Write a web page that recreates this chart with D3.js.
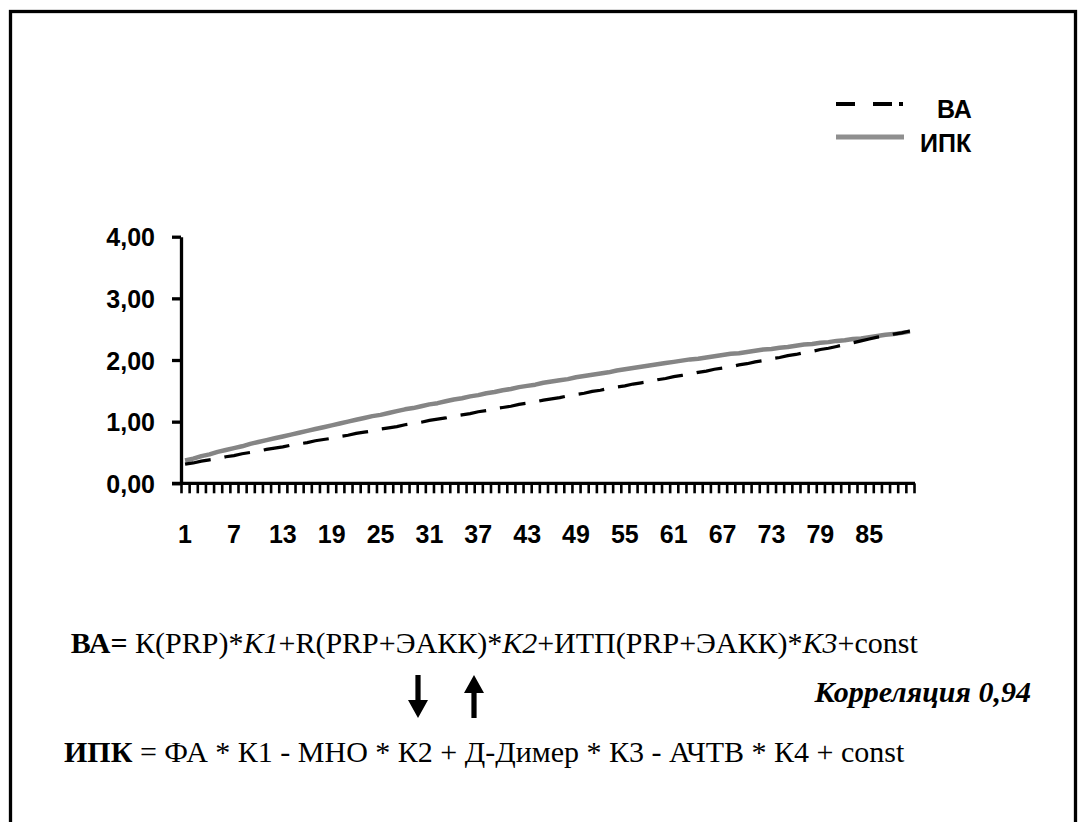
<!DOCTYPE html>
<html>
<head>
<meta charset="utf-8">
<script src="https://cdn.jsdelivr.net/npm/d3@7"></script>
<style>
  html, body { margin: 0; padding: 0; background: #fff; }
  svg { display: block; }
</style>
</head>
<body>
<svg id="chart" width="1086" height="822"></svg>
<script>
// ---------- DATA ----------
const categories = [1,2,3,4,5,6,7,8,9,10,11,12,13,14,15,16,17,18,19,20,21,22,23,24,25,26,27,28,29,30,
  31,32,33,34,35,36,37,38,39,40,41,42,43,44,45,46,47,48,49,50,51,52,53,54,55,56,57,58,59,60,
  61,62,63,64,65,66,67,68,69,70,71,72,73,74,75,76,77,78,79,80,81,82,83,84,85,86,87,88,89,90];

const seriesNames = ["ВА", "ИПК"];

const vaValues = [0.31,0.33,0.36,0.38,0.40,0.43,0.45,0.48,0.50,0.52,0.55,0.57,0.59,0.62,0.64,0.66,
  0.69,0.71,0.73,0.76,0.78,0.81,0.83,0.85,0.88,0.90,0.92,0.95,0.97,0.99,1.02,1.04,1.06,1.09,1.11,
  1.13,1.16,1.18,1.21,1.23,1.25,1.28,1.30,1.32,1.35,1.37,1.39,1.42,1.44,1.46,1.49,1.51,1.54,1.56,
  1.58,1.61,1.63,1.65,1.68,1.70,1.73,1.75,1.77,1.80,1.82,1.85,1.87,1.89,1.92,1.94,1.97,1.99,2.02,
  2.04,2.07,2.09,2.12,2.14,2.17,2.19,2.22,2.25,2.28,2.31,2.34,2.37,2.39,2.42,2.44,2.47];

const ipkValues = [0.37,0.40,0.44,0.47,0.51,0.54,0.57,0.60,0.64,0.67,0.70,0.73,0.76,0.79,0.82,0.85,
  0.88,0.91,0.94,0.97,1.00,1.03,1.06,1.09,1.11,1.14,1.17,1.20,1.22,1.25,1.28,1.30,1.33,1.36,1.38,
  1.41,1.43,1.46,1.48,1.51,1.53,1.56,1.58,1.60,1.63,1.65,1.67,1.69,1.72,1.74,1.76,1.78,1.80,1.83,
  1.85,1.87,1.89,1.91,1.93,1.95,1.97,1.99,2.01,2.02,2.04,2.06,2.08,2.10,2.11,2.13,2.15,2.17,2.18,
  2.20,2.21,2.23,2.25,2.26,2.28,2.29,2.31,2.32,2.34,2.35,2.37,2.39,2.41,2.42,2.44,2.46];

const xTickLabels = [1,7,13,19,25,31,37,43,49,55,61,67,73,79,85];
const yTickValues = [0,1,2,3,4];

// ---------- LAYOUT ----------
const svg = d3.select("#chart");
const sansFont = "'Liberation Sans', Arial, sans-serif";
const serifFont = "'Liberation Serif', 'Times New Roman', serif";

// outer frame
svg.append("rect")
  .attr("x", 10.5).attr("y", 11.5)
  .attr("width", 1065).attr("height", 900)
  .attr("fill", "none").attr("stroke", "#000").attr("stroke-width", 3.3);

const x0 = 181, x1 = 914, yTop = 236.7, yBottom = 483.3;

const x = d3.scaleBand().domain(categories).range([x0, x1]).padding(0);
const xEdge = d3.scaleLinear().domain([0, categories.length]).range([x0, x1]);
const y = d3.scaleLinear().domain([0, 4]).range([yBottom, yTop]);

const g = svg.append("g");

// x axis: tick marks between categories
const xAxisTicks = d3.axisBottom(xEdge)
  .tickValues(d3.range(0, categories.length + 1))
  .tickSize(10).tickSizeOuter(0).tickFormat("");
const gxt = g.append("g").attr("transform", `translate(0,${yBottom})`).call(xAxisTicks);
gxt.select(".domain").remove();
gxt.selectAll(".tick line").attr("stroke", "#000").attr("stroke-width", 2.6);

// x axis labels
const xAxisLabels = d3.axisBottom(x)
  .tickValues(xTickLabels).tickSize(0).tickSizeOuter(0).tickPadding(0);
const gxl = g.append("g").attr("transform", `translate(0,${yBottom})`).call(xAxisLabels);
gxl.select(".domain").remove();
gxl.selectAll(".tick text")
  .attr("dy", null).attr("y", 60)
  .style("font-family", sansFont).style("font-weight", "bold").style("font-size", "25px")
  .attr("fill", "#000");

// x axis line
g.append("line")
  .attr("x1", x0 - 9).attr("x2", x1 + 1)
  .attr("y1", yBottom).attr("y2", yBottom)
  .attr("stroke", "#000").attr("stroke-width", 3.3);

// y axis
const yAxis = d3.axisLeft(y)
  .tickValues(yTickValues)
  .tickFormat(d => d3.format(".2f")(d).replace(".", ","))
  .tickSize(9).tickSizeOuter(0).tickPadding(17);
const gy = g.append("g").attr("transform", `translate(${x0},0)`).call(yAxis);
gy.select(".domain").attr("stroke", "#000").attr("stroke-width", 3.3);
gy.selectAll(".tick line").attr("stroke", "#000").attr("stroke-width", 3.3);
gy.selectAll(".tick text")
  .attr("dy", "0.36em")
  .style("font-family", sansFont).style("font-weight", "bold").style("font-size", "25px")
  .attr("fill", "#000");

// series lines
const line = d3.line()
  .x((d, i) => x(categories[i]) + x.bandwidth() / 2)
  .y(d => y(d));

g.append("path").datum(ipkValues)
  .attr("d", line).attr("fill", "none")
  .attr("stroke", "#858585").attr("stroke-width", 4.5)
  .attr("stroke-linejoin", "round");

g.append("path").datum(vaValues)
  .attr("d", line).attr("fill", "none")
  .attr("stroke", "#000").attr("stroke-width", 3.2)
  .attr("stroke-dasharray", "26,14");

// legend
const lg = svg.append("g");
lg.append("line").attr("x1", 836).attr("x2", 903).attr("y1", 104).attr("y2", 104)
  .attr("stroke", "#000").attr("stroke-width", 4)
  .attr("stroke-dasharray", "19,18,19,7,4,100");
lg.append("line").attr("x1", 836).attr("x2", 904).attr("y1", 137).attr("y2", 137)
  .attr("stroke", "#8f8f8f").attr("stroke-width", 5);
lg.append("text").attr("x", 937).attr("y", 118).text(seriesNames[0])
  .style("font-family", sansFont).style("font-weight", "bold").style("font-size", "25px");
lg.append("text").attr("x", 920).attr("y", 152).text(seriesNames[1])
  .style("font-family", sansFont).style("font-weight", "bold").style("font-size", "25px");

// formulas
function richText(xp, yp, parts, size, anchor) {
  const t = svg.append("text").attr("x", xp).attr("y", yp)
    .style("font-family", serifFont).style("font-size", size + "px")
    .attr("text-anchor", anchor || "start").attr("fill", "#000");
  parts.forEach(p => {
    t.append("tspan").text(p.t)
      .style("font-weight", p.b ? "bold" : "normal")
      .style("font-style", p.i ? "italic" : "normal");
  });
  return t;
}

richText(70.7, 653, [
  {t: "ВА=", b: true}, {t: " К(PRP)*"}, {t: "K1", i: true}, {t: "+R(PRP+ЭАКК)*"},
  {t: "K2", i: true}, {t: "+ИТП(PRP+ЭАКК)*"}, {t: "K3", i: true}, {t: "+const"}
], 30);

richText(1031, 702, [{t: "Корреляция 0,94", b: true, i: true}], 30, "end");

richText(64, 762, [
  {t: "ИПК", b: true}, {t: " = ФА * К1 - МНО * К2 + Д-Димер * К3 - АЧТВ * К4 + const"}
], 30);

// arrows
function arrow(cx, yFrom, yTo) {
  const dir = yTo > yFrom ? 1 : -1;
  const headLen = 18, headHalf = 10, shaftHalf = 2.6;
  const yh = yTo - dir * headLen;
  const pts = [
    [cx - shaftHalf, yFrom], [cx + shaftHalf, yFrom], [cx + shaftHalf, yh],
    [cx + headHalf, yh], [cx, yTo], [cx - headHalf, yh], [cx - shaftHalf, yh]
  ];
  svg.append("path").attr("d", d3.line()(pts) + "Z").attr("fill", "#000");
}
arrow(418, 675, 718);
arrow(474, 718, 675);
</script>
</body>
</html>
